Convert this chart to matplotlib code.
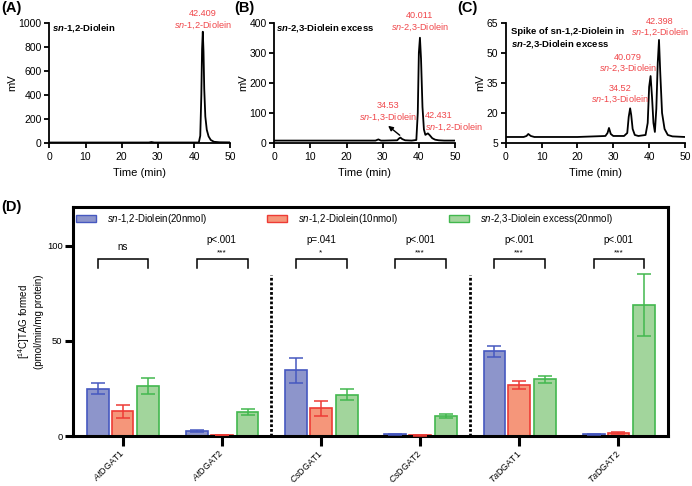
import numpy as np
import matplotlib.pyplot as plt
from matplotlib.patches import Patch
from matplotlib.legend import Legend

plt.rcParams['font.family'] = ['Liberation Sans', 'DejaVu Sans']
plt.rcParams['mathtext.fontset'] = 'custom'
plt.rcParams['mathtext.rm'] = 'Liberation Sans'
plt.rcParams['mathtext.it'] = 'Liberation Sans:italic'
plt.rcParams['mathtext.bf'] = 'Liberation Sans:bold'
plt.rcParams['mathtext.bfit'] = 'Liberation Sans:italic:bold'

# chromatogram traces (time in min, signal in mV)
time_a = [0, 5, 10, 20, 27.5, 28.2, 29, 35, 41.3, 41.7, 42.0, 42.2, 42.4, 42.6, 42.8,
          43.1, 43.5, 44.0, 44.6, 45.5, 47, 50]
mv_a = [4, 4, 4, 4, 4, 8, 4, 4, 4, 60, 400, 780, 925, 760, 450, 220, 110, 55, 25, 10, 6, 5]

time_b = [0, 10, 20, 28, 28.8, 29.5, 30.5, 34, 34.5, 34.9, 35.4, 36.2, 38, 39.3, 39.7,
          40.0, 40.3, 40.6, 41.0, 41.4, 41.8, 42.2, 42.5, 43.0, 43.7, 44.5, 45.5, 47, 50]
mv_b = [8, 8, 8, 8, 12, 8, 8, 9, 15, 18, 13, 9, 8, 10, 100, 300, 350, 280, 120, 45, 27,
        30, 32, 26, 16, 11, 9, 8, 8]

time_c = [0, 5, 5.8, 6.3, 7.0, 8, 20, 27.8, 28.4, 28.8, 29.3, 30, 33, 33.9, 34.3, 34.7,
          35.0, 35.4, 36.0, 37, 39.0, 39.6, 40.0, 40.4, 40.8, 41.2, 41.6, 42.0, 42.4, 42.75,
          43.1, 43.6, 44.3, 45.2, 46.5, 50]
mv_c = [8, 8, 8.5, 9.5, 8.5, 8, 8, 8.5, 10, 12.5, 9.5, 8.5, 8.5, 10, 18, 22.3, 19, 12,
        9, 8.5, 9, 15, 33, 38.4, 28, 15, 10.5, 22, 45, 56.4, 40, 20, 12, 9, 8.3, 8]

# bar data for panel D
genes = [r'$\mathit{At}$DGAT1', r'$\mathit{At}$DGAT2', r'$\mathit{Cs}$DGAT1',
         r'$\mathit{Cs}$DGAT2', r'$\mathit{Ta}$DGAT1', r'$\mathit{Ta}$DGAT2']
series_names = [r'$\mathit{sn}$-1,2-Diolein(20nmol)', r'$\mathit{sn}$-1,2-Diolein(10nmol)',
                r'$\mathit{sn}$-2,3-Diolein excess(20nmol)']
mean_12_20 = [24.9, 2.7, 34.5, 0.8, 44.6, 0.8]
err_12_20 = [2.8, 0.4, 6.7, 0.4, 3.0, 0.3]
mean_12_10 = [12.9, 0.5, 14.5, 0.3, 26.8, 1.7]
err_12_10 = [3.3, 0.2, 4.0, 0.2, 2.0, 0.5]
mean_23_20 = [26.3, 12.7, 21.8, 10.5, 29.9, 69.0]
err_23_20 = [4.0, 1.6, 3.0, 1.0, 1.9, 16.5]
p_labels = ['ns', 'p<.001', 'p=.041', 'p<.001', 'p<.001', 'p<.001']
stars = ['', '***', '*', '***', '***', '***']

W, H = 692, 486
fig = plt.figure(figsize=(W / 100, H / 100), dpi=100)


def px_axes(left, top, right, bottom):
    return fig.add_axes([left / W, 1 - bottom / H, (right - left) / W, (bottom - top) / H])


def style_chrom(ax, ylim, yticks):
    ax.set_xlim(0, 50)
    ax.set_ylim(*ylim)
    ax.set_xticks([0, 10, 20, 30, 40, 50])
    ax.set_yticks(yticks)
    for s in ['top', 'right']:
        ax.spines[s].set_visible(False)
    for s in ['left', 'bottom']:
        ax.spines[s].set_linewidth(1.3)
    ax.tick_params(width=1.3, length=3.5, labelsize=7.5, pad=2)
    ax.tick_params(axis='x', pad=3)
    ax.set_xlabel('Time (min)', fontsize=8, labelpad=4)
    ax.set_ylabel('mV', fontsize=8, labelpad=1)


red = '#f0464a'

# (A)
ax_a = px_axes(49.3, 22.7, 230.3, 143)
ax_a.plot(time_a, mv_a, color='black', lw=1.3)
style_chrom(ax_a, (0, 1000), [0, 200, 400, 600, 800, 1000])
ax_a.text(0.015, 0.956, r'$\mathbfit{sn}$-1,2-Diolein', transform=ax_a.transAxes,
          fontsize=6.8, fontweight='bold', va='center', ha='left')
ax_a.text(42.5, 1022, '42.409\n' + r'$\mathit{sn}$-1,2-Diolein', color=red, fontsize=6.6,
          ha='center', va='center', clip_on=False, linespacing=1.15)

# (B)
ax_b = px_axes(274.3, 22.7, 455, 143)
ax_b.plot(time_b, mv_b, color='black', lw=1.3)
style_chrom(ax_b, (0, 400), [0, 100, 200, 300, 400])
ax_b.text(0.01, 0.956, r'$\mathbfit{sn}$-2,3-Diolein excess', transform=ax_b.transAxes,
          fontsize=6.8, fontweight='bold', va='center', ha='left')
ax_b.text(40.3, 402, '40.011\n' + r'$\mathit{sn}$-2,3-Diolein', color=red, fontsize=6.6,
          ha='center', va='center', clip_on=False, linespacing=1.15)
ax_b.text(31.5, 103, '34.53\n' + r'$\mathit{sn}$-1,3-Diolein', color=red, fontsize=6.6,
          ha='center', va='center', clip_on=False, linespacing=1.15)
ax_b.text(41.7, 70, '42.431\n' + r'$\mathit{sn}$-1,2-Diolein', color=red, fontsize=6.6,
          ha='left', va='center', clip_on=False, linespacing=1.15)
ax_b.annotate('', xy=(30.9, 63), xytext=(35.3, 20),
              arrowprops=dict(arrowstyle='-|>', color='black', lw=1.0, mutation_scale=7))

# (C)
ax_c = px_axes(505.7, 22.7, 685, 143)
ax_c.plot(time_c, mv_c, color='black', lw=1.3)
style_chrom(ax_c, (5, 65), [5, 20, 35, 50, 65])
ax_c.text(0.03, 0.869, 'Spike of sn-1,2-Diolein in\n' + r'$\mathbfit{sn}$-2,3-Diolein excess',
          transform=ax_c.transAxes, fontsize=6.8, fontweight='bold', va='center', ha='left',
          linespacing=1.2)
ax_c.text(43.0, 62.6, '42.398\n' + r'$\mathit{sn}$-1,2-Diolein', color=red, fontsize=6.6,
          ha='center', va='center', clip_on=False, linespacing=1.15)
ax_c.text(34.1, 44.7, '40.079\n' + r'$\mathit{sn}$-2,3-Diolein', color=red, fontsize=6.6,
          ha='center', va='center', clip_on=False, linespacing=1.15)
ax_c.text(31.9, 29.2, '34.52\n' + r'$\mathit{sn}$-1,3-Diolein', color=red, fontsize=6.6,
          ha='center', va='center', clip_on=False, linespacing=1.15)

# (D)
ax_d = px_axes(73, 207, 668, 436)
x = np.arange(len(genes))
faces = ['#8d95cb', '#f5967a', '#a2d59c']
edges = ['#4658c0', '#ee3b35', '#42b84e']
offsets = [-0.25, 0.0, 0.26]
means = [mean_12_20, mean_12_10, mean_23_20]
errs = [err_12_20, err_12_10, err_23_20]
for m, e, off, fc, ec in zip(means, errs, offsets, faces, edges):
    ax_d.bar(x + off, m, width=0.22, color=fc, edgecolor=ec, linewidth=1.2, zorder=2)
    ax_d.errorbar(x + off, m, yerr=e, fmt='none', ecolor=ec, elinewidth=1.1,
                  capsize=5.2, capthick=1.1, zorder=3)

ax_d.set_xlim(-0.5, 5.5)
ax_d.set_ylim(0, 120.5)
ax_d.set_yticks([0, 50, 100])
ax_d.set_xticks(x)
ax_d.set_xticklabels(genes, rotation=45, ha='right', va='center', rotation_mode='anchor',
                     fontsize=6.4)
for s in ax_d.spines.values():
    s.set_linewidth(2.2)
ax_d.tick_params(axis='both', width=2.2, length=5.5, labelsize=6.8, pad=2)
ax_d.tick_params(axis='x', length=7, pad=4, labelsize=6.4)
ax_d.set_ylabel('[$^{14}$C]TAG formed\n(pmol/min/mg protein)', fontsize=7, labelpad=2,
                linespacing=1.2)

# significance brackets
for i in range(len(genes)):
    x0, x1 = i - 0.25, i + 0.26
    ax_d.plot([x0, x0, x1, x1], [88.3, 93, 93, 88.3], color='black', lw=1.1,
              solid_joinstyle='miter', zorder=4)
    if stars[i]:
        ax_d.text(i, 103, p_labels[i], ha='center', va='center', fontsize=7)
        ax_d.text(i, 96.5, stars[i], ha='center', va='center', fontsize=6)
    else:
        ax_d.text(i, 99.6, p_labels[i], ha='center', va='center', fontsize=7)

# dotted separators between species
for xs in [1.5, 3.5]:
    ax_d.plot([xs, xs], [0, 84.7], color='black', lw=2.0, linestyle=(0, (1, 0.7)),
              dash_capstyle='butt', zorder=1)

# one legend entry per series, placed where the reference has them
legend_x_px = [76, 267, 449]
for name, fc, ec, lx in zip(series_names, faces, edges, legend_x_px):
    leg = Legend(ax_d, [Patch(facecolor=fc, edgecolor=ec, linewidth=1.0)], [name],
                 loc='center left', bbox_to_anchor=((lx - 73) / 595, 0.948),
                 frameon=False, fontsize=7, handlelength=2.05, handleheight=0.65,
                 handletextpad=1.1, borderpad=0, borderaxespad=0)
    ax_d.add_artist(leg)

# panel labels
for lbl, px, py in [('(A)', 1, 8), ('(B)', 234, 8), ('(C)', 457, 8), ('(D)', 1, 207)]:
    fig.text(px / W, 1 - py / H, lbl, fontsize=10.5, fontweight='bold', ha='left', va='center')

fig.savefig('out.png', dpi=100)
